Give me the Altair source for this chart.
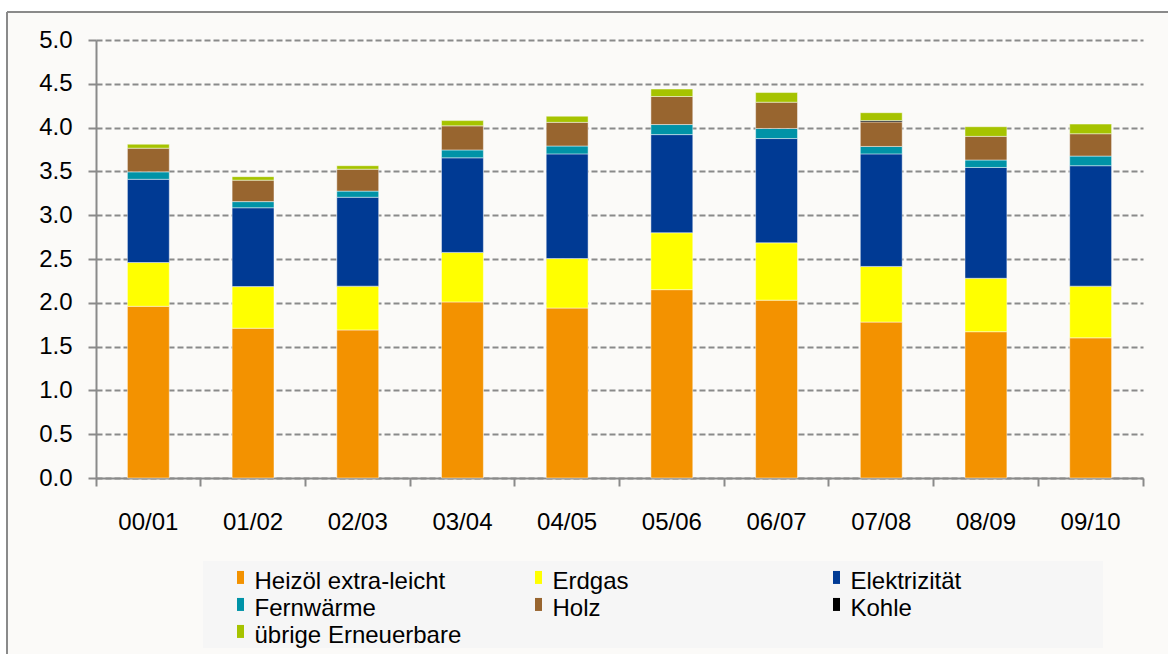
import altair as alt
import pandas as pd

FONT = "Liberation Sans"
GRAY = "#8A8A8A"

seasons = ["00/01", "01/02", "02/03", "03/04", "04/05",
           "05/06", "06/07", "07/08", "08/09", "09/10"]

carriers = ["Heizöl extra-leicht", "Erdgas", "Elektrizität",
            "Fernwärme", "Holz", "Kohle", "übrige Erneuerbare"]
carrier_colors = ["#F39200", "#FFFF00", "#003A94",
                  "#0093A7", "#98652F", "#000000", "#A6C300"]

heizoel = [1.96, 1.71, 1.69, 2.01, 1.94, 2.15, 2.03, 1.78, 1.67, 1.60]
erdgas = [0.50, 0.475, 0.50, 0.565, 0.565, 0.65, 0.655, 0.635, 0.61, 0.59]
elektrizitaet = [0.95, 0.90, 1.015, 1.08, 1.195, 1.12, 1.19, 1.285, 1.265, 1.375]
fernwaerme = [0.085, 0.07, 0.07, 0.09, 0.09, 0.115, 0.115, 0.085, 0.085, 0.11]
holz = [0.27, 0.245, 0.25, 0.275, 0.27, 0.32, 0.30, 0.28, 0.27, 0.255]
kohle = [0, 0, 0, 0, 0, 0, 0, 0.015, 0, 0]
uebrige = [0.045, 0.04, 0.04, 0.06, 0.07, 0.085, 0.11, 0.09, 0.11, 0.11]

series = [heizoel, erdgas, elektrizitaet, fernwaerme, holz, kohle, uebrige]

rows = []
for idx, (name, values) in enumerate(zip(carriers, series)):
    for season, v in zip(seasons, values):
        if v > 0:
            rows.append({"Saison": season, "Energieträger": name,
                         "Wert": v, "idx": idx})
df = pd.DataFrame(rows)

one = pd.DataFrame({"k": [0]})

# white margin outside the outer frame
margin_left = alt.Chart(one).mark_rect(color="white").encode(
    x=alt.value(-96), x2=alt.value(-89), y=alt.value(-40), y2=alt.value(620))
margin_top = alt.Chart(one).mark_rect(color="white").encode(
    x=alt.value(-96), x2=alt.value(1100), y=alt.value(-40), y2=alt.value(-28))
frame_left = alt.Chart(one).mark_rule(color=GRAY, strokeWidth=2).encode(
    x=alt.value(-89), y=alt.value(-28), y2=alt.value(620))
frame_top = alt.Chart(one).mark_rule(color=GRAY, strokeWidth=2).encode(
    x=alt.value(-89), x2=alt.value(1100), y=alt.value(-28))

# light box behind the legend
legend_box = alt.Chart(one).mark_rect(color="#F6F6F6").encode(
    x=alt.value(107), x2=alt.value(1007), y=alt.value(521), y2=alt.value(608))

bars = alt.Chart(df).mark_bar(
    width=alt.RelativeBandSize(0.4),
    stroke="#FFFFFF", strokeWidth=1, strokeOpacity=0.45,
).encode(
    x=alt.X(
        "Saison:N", sort=seasons,
        scale=alt.Scale(paddingInner=0, paddingOuter=0),
        axis=alt.Axis(
            title=None, labelAngle=0, grid=False,
            labelFont=FONT, labelFontSize=24, labelColor="#000000",
            domainColor=GRAY, domainWidth=2,
            tickColor=GRAY, tickWidth=2, tickSize=8,
            bandPosition=1, tickExtra=True,
            labelPadding=24,
        ),
    ),
    y=alt.Y(
        "Wert:Q", stack="zero",
        scale=alt.Scale(domain=[0, 5], nice=False),
        axis=alt.Axis(
            title=None, values=[0, 0.5, 1, 1.5, 2, 2.5, 3, 3.5, 4, 4.5, 5],
            format=".1f", grid=True, gridDash=[6, 3], gridColor=GRAY,
            gridWidth=2, domainColor=GRAY, domainWidth=2,
            tickColor=GRAY, tickWidth=2, tickSize=8,
            labelFont=FONT, labelFontSize=24, labelColor="#000000",
            labelPadding=16,
        ),
    ),
    color=alt.Color(
        "Energieträger:N",
        scale=alt.Scale(domain=carriers, range=carrier_colors),
        legend=alt.Legend(
            title=None, orient="none", direction="horizontal",
            legendX=132.5, legendY=530,
            columns=3, gridAlign="all", columnPadding=65, rowPadding=3,
            symbolType="M-0.54,-1.7H0.54V0.3H-0.54Z", symbolSize=169,
            symbolStrokeWidth=0,
            labelFont=FONT, labelFontSize=24, labelColor="#000000",
            labelOffset=2, labelLimit=400, padding=0,
        ),
    ),
    order=alt.Order("idx:Q", sort="ascending"),
)

chart = alt.layer(
    margin_left, margin_top, frame_left, frame_top, legend_box, bars
).properties(
    width=1047, height=438,
    background="#FBFAF8",
    padding={"left": 96, "top": 40, "right": 25, "bottom": 176},
    autosize=alt.AutoSizeParams(type="none"),
).configure_view(strokeWidth=0)

chart.save("out.html", embed_options={"renderer": "svg", "actions": False})
